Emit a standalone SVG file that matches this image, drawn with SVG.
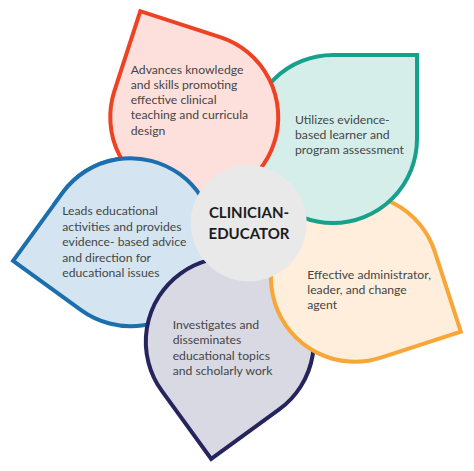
<svg xmlns="http://www.w3.org/2000/svg" xmlns:xlink="http://www.w3.org/1999/xlink" width="474" height="471" viewBox="0 0 474 471">
  <style>
    .pet { stroke-width: 4; stroke-linejoin: miter; }
    .lbl { font-family: Lato, "Liberation Sans", sans-serif; font-size: 12.2px; fill: #454545; }
    .ctr { font-family: Lato, "Liberation Sans", sans-serif; font-size: 15px; font-weight: bold; fill: #1c1c1c; text-anchor: middle; }
    .red { fill: #fde0db; stroke: #ef4123; }
    .teal { fill: #d5eeea; stroke: #17a08c; }
    .orange { fill: #feeedb; stroke: #f7a637; }
    .navy { fill: #d9d9e3; stroke: #25245c; }
    .blue { fill: #d4e5f1; stroke: #1c6fac; }
  </style>
  <defs>
    <path id="petal" d="M168.5,-168.5 L84.5,-168.5 A84,84 0 1 0 168.5,-84.5 Z"/>
    <clipPath id="clipBlue" clipPathUnits="userSpaceOnUse">
      <rect x="0" y="140" width="225" height="64"/>
    </clipPath>
  </defs>
  <rect width="474" height="471" fill="#ffffff"/>

  <g id="node-blue">
    <use xlink:href="#petal" class="pet blue" transform="translate(248.5,223.5) rotate(-144)"/>
    <text class="lbl"><tspan x="62.3" y="215">Leads educational</tspan><tspan x="62.3" y="230.5">activities and provides</tspan><tspan x="62.3" y="246">evidence- based advice</tspan><tspan x="62.3" y="261.5">and direction for</tspan><tspan x="62.3" y="277">educational issues</tspan></text>
  </g>

  <g id="node-navy">
    <use xlink:href="#petal" class="pet navy" transform="translate(248.5,223.5) rotate(144)"/>
    <text class="lbl"><tspan x="172.7" y="329">Investigates and</tspan><tspan x="172.7" y="344.3">disseminates</tspan><tspan x="172.7" y="359.6">educational topics</tspan><tspan x="172.7" y="375">and scholarly work</tspan></text>
  </g>

  <g id="node-orange">
    <use xlink:href="#petal" class="pet orange" transform="translate(248.5,223.5) rotate(72)"/>
    <text class="lbl"><tspan x="307.3" y="279.3">Effective administrator,</tspan><tspan x="307.3" y="294.3">leader, and change</tspan><tspan x="307.3" y="309.3">agent</tspan></text>
  </g>

  <g id="node-teal">
    <use xlink:href="#petal" class="pet teal" transform="translate(248.5,223.5)"/>
    <text class="lbl"><tspan x="295" y="123.5">Utilizes evidence-</tspan><tspan x="295" y="139">based learner and</tspan><tspan x="295" y="154.3">program assessment</tspan></text>
  </g>

  <g id="node-red">
    <use xlink:href="#petal" class="pet red" transform="translate(248.5,223.5) rotate(-72)"/>
    <text class="lbl"><tspan x="130.7" y="74">Advances knowledge</tspan><tspan x="130.7" y="89.2">and skills promoting</tspan><tspan x="130.7" y="104.3">effective clinical</tspan><tspan x="130.7" y="119.4">teaching and curricula</tspan><tspan x="130.7" y="134.5">design</tspan></text>
  </g>

  <g id="blue-overlap" clip-path="url(#clipBlue)">
    <use xlink:href="#petal" class="pet blue" transform="translate(248.5,223.5) rotate(-144)"/>
  </g>

  <g id="node-center">
    <circle cx="248.7" cy="223.3" r="58" fill="#e9e9e9"/>
    <text class="ctr"><tspan x="249" y="218.3">CLINICIAN-</tspan><tspan x="249" y="238.5">EDUCATOR</tspan></text>
  </g>
</svg>
